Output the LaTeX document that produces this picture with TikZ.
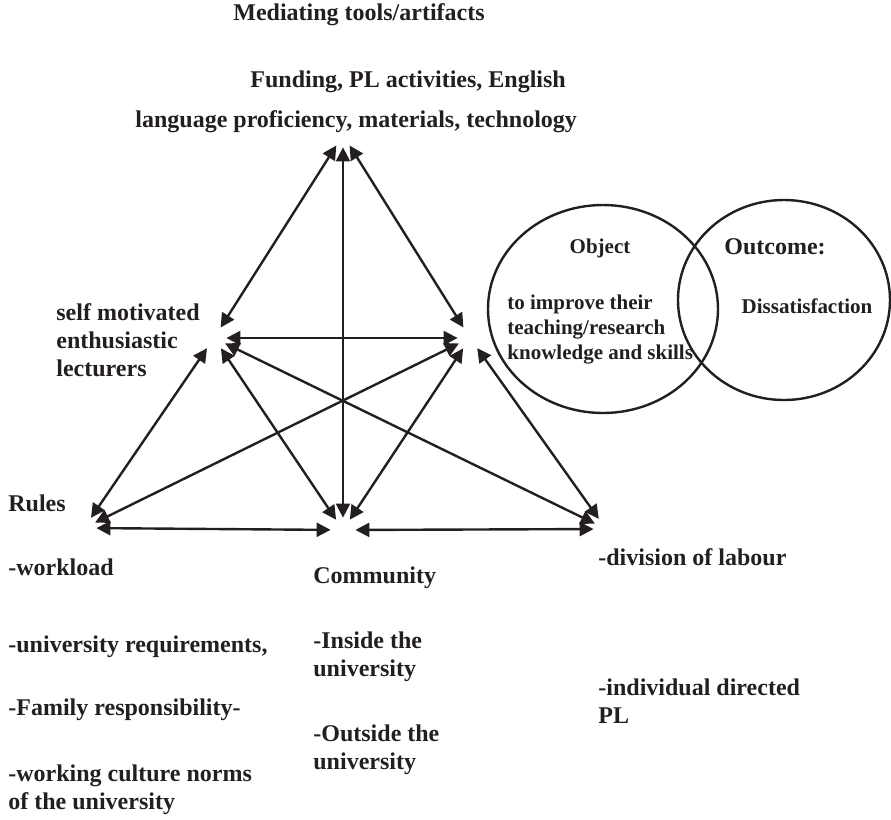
\documentclass[tikz,border=0pt]{standalone}
\usepackage{fontspec}
\setmainfont{Liberation Serif}
\usetikzlibrary{arrows.meta,shapes.geometric}
\definecolor{ink}{HTML}{231F20}
\newcommand{\lblfont}{\fontsize{12}{14}\selectfont\bfseries}
\newcommand{\ovalfont}{\fontsize{10.5}{12.5}\selectfont\bfseries}
\begin{document}
\begin{tikzpicture}
	[
	x=0.5pt, y=-0.5pt,
	every node/.style={font=\lblfont, text=ink, inner sep=0pt},
	txt/.style={anchor=west, align=left},
	inoval/.style={font=\ovalfont},
	vertex/.style={circle, minimum size=12pt},
	link/.style={{Triangle[length=7pt,width=7pt]}-{Triangle[length=7pt,width=7pt]}, draw=ink, line width=1.2pt},
	oval/.style={ellipse, draw=ink, line width=1.2pt}
	]
		\useasboundingbox (0,0) rectangle (891,820);

		% triangle corners
		\node[vertex] (top) at (343,135) {};
		\node[vertex] (left) at (214,338) {};
		\node[vertex] (right) at (470,338) {};
		\node[vertex] (botleft) at (84,528) {};
		\node[vertex] (botmid) at (343,530) {};
		\node[vertex] (botright) at (606,529) {};

		% object and outcome
		\node[oval, minimum width=115pt, minimum height=104pt] (objoval) at (603,309) {};
		\node[oval, minimum width=106pt, minimum height=100pt] (outoval) at (784,300) {};

		% top labels
		\node[txt] (mediating) at (233,15) {Mediating tools/artifacts};
		\node[txt] (tools1) at (250,82) {Funding, PL activities, English};
		\node[txt] (tools2) at (135,122) {language proficiency, materials, technology};

		% subject
		\node[txt] (subject) at (56,340) {self motivated\\enthusiastic\\lecturers};

		% circles text
		\node[inoval] (objtitle) at (600,248) {Object};
		\node (outtitle) at (775,247) {Outcome:};
		\node[txt, inoval] (objtext) at (507,330) {to improve their\\teaching/research\\knowledge and skills};
		\node[inoval] (outtext) at (807,306) {Dissatisfaction};

		% rules
		\node[txt] (rules) at (8,503) {Rules};
		\node[txt] (rule1) at (8,567) {-workload};
		\node[txt] (rule2) at (8,647) {-university requirements,};
		\node[txt] (rule3) at (8,710) {-Family responsibility-};
		\node[txt] (rule4) at (8,790) {-working culture norms\\of the university};

		% community
		\node[txt] (community) at (313,578) {Community};
		\node[txt] (comm1) at (313,657) {-Inside the\\university};
		\node[txt] (comm2) at (313,750) {-Outside the\\university};

		% division of labour
		\node[txt] (division) at (598,557) {-division of labour};
		\node[txt] (div1) at (598,701) {-individual directed\\PL};

		% drawing code
		\foreach \from/\to in {top/left,top/right,top/botmid} \draw [link] (\from) -- (\to);
		\foreach \from/\to in {left/right,left/botleft,left/botmid,left/botright} \draw [link] (\from) -- (\to);
		\foreach \from/\to in {right/botleft,right/botmid,right/botright} \draw [link] (\from) -- (\to);
		\foreach \from/\to in {botleft/botmid,botmid/botright} \draw [link] (\from) -- (\to);
	\end{tikzpicture}
\end{document}
